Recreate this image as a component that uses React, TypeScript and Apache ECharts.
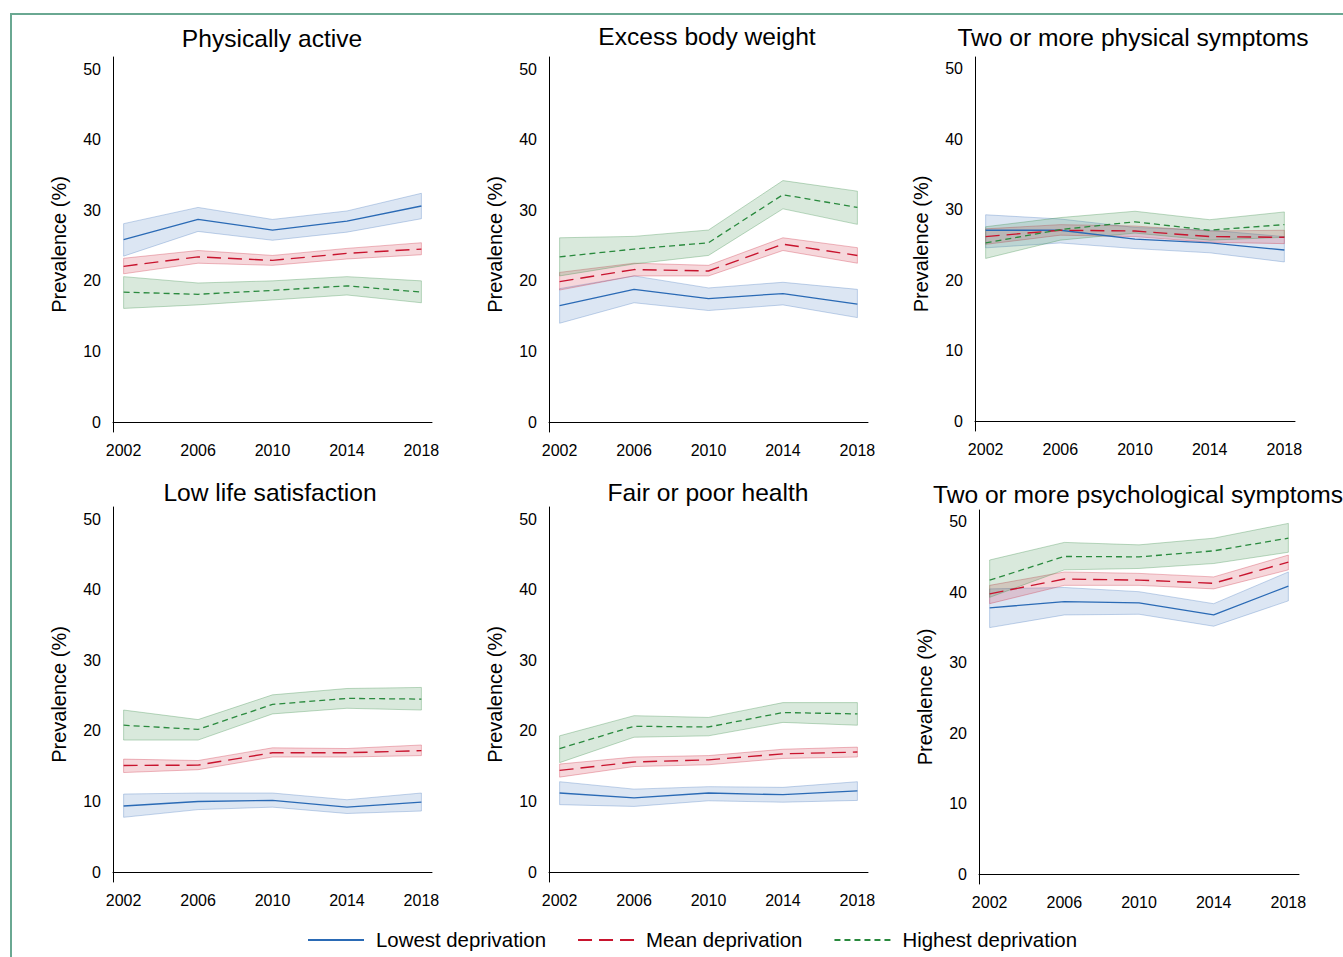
import React, { useEffect, useRef } from 'react';
import * as echarts from 'echarts';

const years = [2002, 2006, 2010, 2014, 2018];
const yTicks = [0, 10, 20, 30, 40, 50];
const groupNames = ['Lowest deprivation', 'Mean deprivation', 'Highest deprivation'];
const panelTitles = [
  'Physically active',
  'Excess body weight',
  'Two or more physical symptoms',
  'Low life satisfaction',
  'Fair or poor health',
  'Two or more psychological symptoms',
];

// rows per survey year: [estimate, lower CI, upper CI]
const activeLowest = [[25.85, 23.5, 28.1], [28.7, 27.0, 30.4], [27.2, 25.75, 28.7], [28.45, 26.9, 29.9], [30.6, 28.8, 32.4]];
const activeMean = [[22.06, 21.0, 23.2], [23.4, 22.5, 24.3], [22.9, 22.2, 23.6], [23.9, 23.1, 24.6], [24.5, 23.7, 25.4]];
const activeHighest = [[18.4, 16.1, 20.6], [18.1, 16.6, 19.7], [18.65, 17.3, 20.0], [19.3, 18.0, 20.6], [18.4, 16.9, 20.0]];

const weightLowest = [[16.5, 14.0, 18.9], [18.8, 16.9, 20.7], [17.5, 15.8, 19.0], [18.2, 16.6, 19.8], [16.7, 14.8, 18.8]];
const weightMean = [[19.9, 18.7, 21.2], [21.6, 20.7, 22.5], [21.4, 20.7, 22.2], [25.2, 24.3, 26.1], [23.6, 22.5, 24.7]];
const weightHighest = [[23.4, 20.7, 26.1], [24.5, 22.4, 26.3], [25.4, 23.6, 27.2], [32.2, 30.2, 34.2], [30.4, 28.0, 32.7]];

const physSympLowest = [[27.1, 24.6, 29.3], [27.1, 25.3, 28.7], [25.85, 24.5, 27.5], [25.3, 23.9, 27.1], [24.3, 22.6, 26.2]];
const physSympMean = [[26.2, 25.1, 27.3], [27.1, 26.4, 27.9], [27.0, 26.2, 27.7], [26.2, 25.4, 27.0], [26.1, 25.2, 27.1]];
const physSympHighest = [[25.3, 23.1, 27.6], [27.2, 25.7, 28.9], [28.3, 26.7, 29.8], [27.1, 25.7, 28.6], [27.9, 26.1, 29.7]];

const lifeSatLowest = [[9.36, 7.76, 11.05], [10.0, 8.85, 11.2], [10.15, 9.2, 11.2], [9.2, 8.3, 10.25], [9.9, 8.65, 11.2]];
const lifeSatMean = [[15.1, 14.1, 16.0], [15.15, 14.5, 15.8], [16.9, 16.3, 17.6], [16.9, 16.3, 17.5], [17.2, 16.5, 18.0]];
const lifeSatHighest = [[20.8, 18.7, 22.95], [20.2, 18.7, 21.6], [23.75, 22.4, 25.1], [24.6, 23.2, 26.0], [24.5, 22.95, 26.15]];

const healthLowest = [[11.2, 9.55, 12.8], [10.5, 9.3, 11.75], [11.2, 10.1, 12.1], [10.96, 9.9, 12.0], [11.5, 10.15, 12.8]];
const healthMean = [[14.4, 13.45, 15.3], [15.6, 14.95, 16.3], [15.9, 15.2, 16.5], [16.75, 16.1, 17.4], [17.0, 16.3, 17.7]];
const healthHighest = [[17.5, 15.5, 19.3], [20.65, 19.1, 22.15], [20.55, 19.3, 21.9], [22.6, 21.2, 24.0], [22.4, 20.8, 24.0]];

const psychLowest = [[37.8, 35.0, 40.5], [38.7, 36.8, 40.7], [38.5, 36.9, 40.1], [36.8, 35.2, 38.4], [40.9, 38.8, 42.9]];
const psychMean = [[39.8, 38.4, 41.0], [41.9, 41.0, 42.9], [41.75, 41.0, 42.7], [41.3, 40.5, 42.2], [44.3, 43.2, 45.3]];
const psychHighest = [[41.75, 39.3, 44.6], [45.1, 43.2, 47.1], [45.05, 43.4, 46.75], [45.9, 44.1, 47.7], [47.7, 45.7, 49.8]];

const panelData = [
  [activeLowest, activeMean, activeHighest],
  [weightLowest, weightMean, weightHighest],
  [physSympLowest, physSympMean, physSympHighest],
  [lifeSatLowest, lifeSatMean, lifeSatHighest],
  [healthLowest, healthMean, healthHighest],
  [psychLowest, psychMean, psychHighest],
];

// layout & style
const FONT = '"Liberation Sans", Arial, Helvetica, sans-serif';
const grids = [
  { left: 113, top: 57, width: 319, height: 375 },
  { left: 549, top: 57, width: 319, height: 375 },
  { left: 975, top: 57, width: 320, height: 374 },
  { left: 113, top: 507, width: 319, height: 375 },
  { left: 549, top: 507, width: 319, height: 375 },
  { left: 979, top: 510, width: 320, height: 374 },
];
const titlePos = [
  [272, 38.5],
  [707, 36],
  [1133, 37.5],
  [270, 492],
  [708, 492.5],
  [1138, 494],
];
const lineColors = ['#2a6ab5', '#c8142e', '#2a8a3e'];
const lineWidths = [1.3, 1.4, 1.3];
const lineTypes: any[] = ['solid', [14, 7], [6, 4]];
const bandFills = ['rgba(70,120,190,0.19)', 'rgba(205,45,65,0.19)', 'rgba(55,140,70,0.19)'];
const bandStrokes = ['rgba(70,120,190,0.32)', 'rgba(205,45,65,0.32)', 'rgba(55,140,70,0.32)'];

function buildOption() {
  const series: any[] = [];
  const xAxis: any[] = [];
  const yAxis: any[] = [];
  panelData.forEach((groups, p) => {
    xAxis.push({
      type: 'value',
      gridIndex: p,
      min: 2001.43,
      max: 2018.57,
      axisLine: { show: true, lineStyle: { color: '#000', width: 1 } },
      axisTick: { show: false },
      splitLine: { show: false },
      axisLabel: {
        customValues: years,
        formatter: (v: number) => String(v),
        margin: 10,
        fontSize: 16,
        color: '#000',
        fontFamily: FONT,
      },
    });
    yAxis.push({
      type: 'value',
      gridIndex: p,
      min: -1.4,
      max: 51.7,
      axisLine: { show: true, lineStyle: { color: '#000', width: 1 } },
      axisTick: { show: false },
      splitLine: { show: false },
      axisLabel: {
        customValues: yTicks,
        formatter: (v: number) => String(v),
        margin: 12,
        fontSize: 16,
        color: '#000',
        fontFamily: FONT,
      },
      name: 'Prevalence (%)',
      nameLocation: 'middle',
      nameGap: 44,
      nameTextStyle: { fontSize: 20, color: '#000', fontFamily: FONT },
    });
    groups.forEach((rows, g) => {
      const bandData = rows.map((r, i) => [years[i], r[1], r[2]]);
      series.push({
        type: 'custom',
        name: 'band-' + p + '-' + g,
        xAxisIndex: p,
        yAxisIndex: p,
        silent: true,
        z: 1,
        encode: { x: 0, y: [1, 2] },
        data: bandData,
        renderItem: (params: any, api: any) => {
          if (params.dataIndex !== 0) return null;
          const pts: number[][] = [];
          for (let i = 0; i < bandData.length; i++) pts.push(api.coord([bandData[i][0], bandData[i][2]]));
          for (let i = bandData.length - 1; i >= 0; i--) pts.push(api.coord([bandData[i][0], bandData[i][1]]));
          return {
            type: 'polygon',
            shape: { points: pts },
            style: { fill: bandFills[g], stroke: bandStrokes[g], lineWidth: 1 },
          };
        },
      });
    });
    groups.forEach((rows, g) => {
      series.push({
        type: 'line',
        name: groupNames[g],
        xAxisIndex: p,
        yAxisIndex: p,
        z: 3,
        symbol: 'none',
        data: rows.map((r, i) => [years[i], r[0]]),
        lineStyle: { color: lineColors[g], width: lineWidths[g], type: lineTypes[g] },
        itemStyle: { color: lineColors[g] },
      });
    });
  });

  const graphic: any[] = [
    { type: 'line', shape: { x1: 10, y1: 14, x2: 1343, y2: 14 }, style: { stroke: '#6aa892', lineWidth: 2 } },
    { type: 'line', shape: { x1: 11, y1: 13, x2: 11, y2: 957 }, style: { stroke: '#6aa892', lineWidth: 2 } },
  ];
  panelTitles.forEach((t, p) => {
    graphic.push({
      type: 'text',
      x: titlePos[p][0],
      y: titlePos[p][1],
      style: {
        text: t,
        fontSize: 24.6,
        fontFamily: FONT,
        fill: '#000',
        align: 'center',
        verticalAlign: 'middle',
        textAlign: 'center',
        textVerticalAlign: 'middle',
      },
    });
  });

  return {
    animation: false,
    backgroundColor: '#fff',
    grid: grids,
    xAxis,
    yAxis,
    series,
    graphic,
    legend: {
      data: groupNames,
      left: 307,
      top: 930,
      padding: 0,
      itemWidth: 56,
      itemHeight: 12,
      itemGap: 31,
      selectedMode: false,
      itemStyle: { opacity: 0 },
      textStyle: { fontSize: 20.4, color: '#000', fontFamily: FONT, padding: [0, 0, 0, 7] },
    },
  };
}

export default function App() {
  const ref = useRef<HTMLDivElement>(null);
  useEffect(() => {
    document.body.style.margin = '0';
    document.body.style.overflow = 'hidden';
    const chart = echarts.init(ref.current!, undefined, { renderer: 'svg' });
    chart.setOption(buildOption() as any);
    return () => chart.dispose();
  }, []);
  return <div ref={ref} style={{ width: 1343, height: 957 }} />;
}
